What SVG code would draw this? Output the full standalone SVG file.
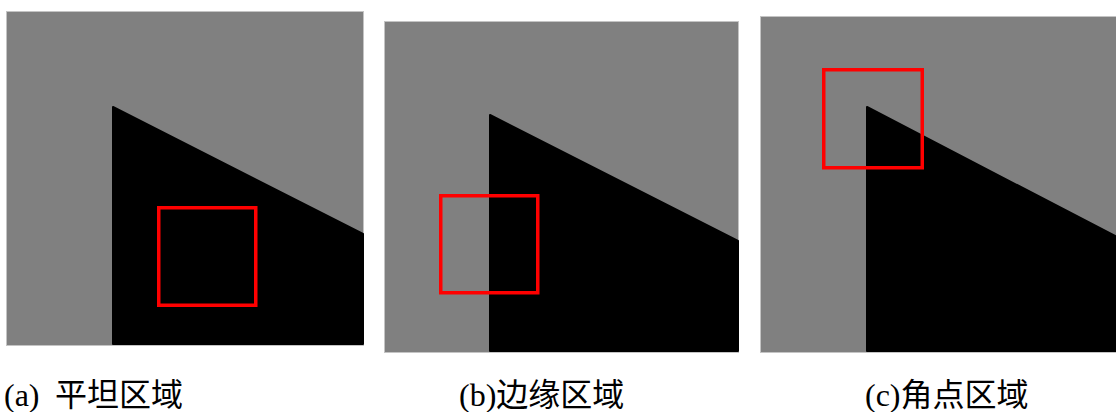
<svg xmlns="http://www.w3.org/2000/svg" width="1116" height="412" viewBox="0 0 1116 412">
<style>
.bg{fill:#808080;stroke:#c4c4c4;stroke-width:1}
.blk{fill:#000;stroke:#000;stroke-width:2;stroke-linejoin:round}
.box{fill:none;stroke:#ff0000;stroke-width:3.5}
.lbl{font-family:"Liberation Serif","Noto Sans CJK SC",serif;font-size:32px;fill:#000}
</style>
<rect width="1116" height="412" fill="#fff"/>
<g id="panel-a">
<rect class="bg" x="6.5" y="11.5" width="357" height="334"/>
<path class="blk" d="M113,107 L363,234 L363,344 L113,344 Z"/>
<rect class="box" x="158.75" y="207.75" width="97" height="97.5"/>
</g>
<g id="panel-b">
<rect class="bg" x="384.5" y="21.5" width="354" height="331"/>
<path class="blk" d="M490,115 L738,241 L738,351 L490,351 Z"/>
<rect class="box" x="440.75" y="195.75" width="97" height="97"/>
</g>
<g id="panel-c">
<rect class="bg" x="760.5" y="16.5" width="356" height="336"/>
<path class="blk" d="M867,107 L1117,237 L1117,351 L867,351 Z"/>
<rect class="box" x="823.75" y="69.75" width="98.5" height="98"/>
</g>
<g id="labels">
<text class="lbl" x="4" y="406">(a)<tspan x="55">平坦区域</tspan></text>
<text class="lbl" x="459" y="406">(b)边缘区域</text>
<text class="lbl" x="865" y="406">(c)角点区域</text>
</g>
</svg>
